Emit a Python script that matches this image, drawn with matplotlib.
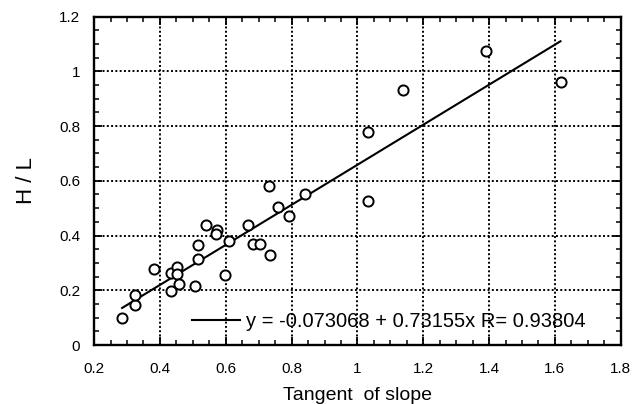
import numpy as np
import matplotlib
matplotlib.use('Agg')
import matplotlib.pyplot as plt
from matplotlib.ticker import MultipleLocator

plt.rcParams['font.family'] = ['Liberation Sans', 'DejaVu Sans']

# tangent of slope vs H/L
tan_slope = [0.285, 0.324, 0.324, 0.382, 0.434, 0.434, 0.451, 0.451, 0.457, 0.507,
             0.516, 0.516, 0.541, 0.572, 0.570, 0.598, 0.611, 0.666, 0.684, 0.705,
             0.734, 0.732, 0.758, 0.793, 0.840, 1.032, 1.032, 1.139, 1.392, 1.617]
h_over_l = [0.098, 0.145, 0.182, 0.276, 0.197, 0.264, 0.286, 0.259, 0.222, 0.216,
            0.315, 0.364, 0.437, 0.420, 0.405, 0.255, 0.379, 0.437, 0.369, 0.369,
            0.328, 0.580, 0.506, 0.472, 0.551, 0.780, 0.527, 0.933, 1.076, 0.962]

intercept = -0.073068
slope = 0.73155
r_value = 0.93804

fig = plt.figure(figsize=(6.36, 4.04), dpi=100)
ax = fig.add_axes([0.148, 0.146, 0.828, 0.813])

x = np.array(tan_slope)
xs = np.array([x.min(), x.max()])
ax.plot(xs, intercept + slope * xs, color='black', lw=1.5,
        label='y = %.6f + %.5fx R= %.5f' % (intercept, slope, r_value))
ax.plot(tan_slope, h_over_l, 'o', mfc='white', mec='black', ms=7.3, mew=1.4)

ax.set_xlim(0.2, 1.8)
ax.set_ylim(0, 1.2)
ax.xaxis.set_minor_locator(MultipleLocator(0.05))
ax.yaxis.set_minor_locator(MultipleLocator(0.05))
ax.set_xticks(np.arange(0.2, 1.81, 0.2))
ax.set_xticklabels(['0.2', '0.4', '0.6', '0.8', '1', '1.2', '1.4', '1.6', '1.8'])
ax.set_yticks(np.arange(0, 1.21, 0.2))
ax.set_yticklabels(['0', '0.2', '0.4', '0.6', '0.8', '1', '1.2'])

ax.tick_params(which='both', direction='in', top=True, right=True, colors='black')
ax.tick_params(which='major', length=6, width=1.3, labelsize=11)
ax.tick_params(which='minor', length=3.5, width=1.1)
ax.tick_params(axis='x', which='major', pad=12)
ax.tick_params(axis='y', which='major', pad=10)
for sp in ax.spines.values():
    sp.set_linewidth(1.7)

ax.grid(True, which='major', color='black', linestyle=(0, (1, 1.2)), linewidth=1.4)

ax.set_xlabel('Tangent  of slope', fontsize=14, labelpad=8)
ax.set_ylabel('H / L', fontsize=16, labelpad=16)

ax.legend(loc='lower right', frameon=False, fontsize=14.5, handlelength=2.4,
          handletextpad=0.3, borderaxespad=0.3, bbox_to_anchor=(0.96, 0.0))

fig.savefig('out.png', dpi=100)
